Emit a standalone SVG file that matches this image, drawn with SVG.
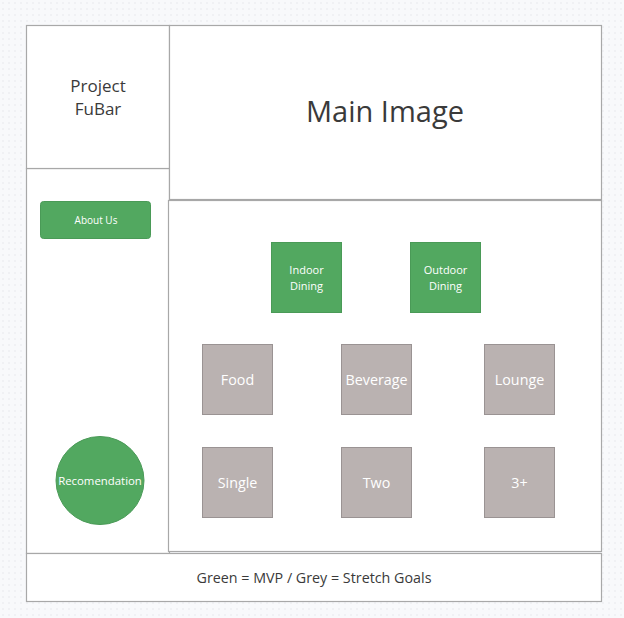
<svg xmlns="http://www.w3.org/2000/svg" width="624" height="618" viewBox="0 0 624 618">
<style>
.frame{fill:#fff;stroke:#a8a8a8;stroke-width:1.2}
.green{fill:#52a860;stroke:#4a9a57;stroke-width:1}
.grey{fill:#bab2b1;stroke:#9a9393;stroke-width:1}
.dark{font-family:"Open Sans","Noto Sans",sans-serif;fill:#3a3a3a;text-anchor:middle}
.light{font-family:"Open Sans","Noto Sans",sans-serif;fill:#fff;text-anchor:middle}
</style>
<defs>
<pattern id="dots" width="6" height="6" patternUnits="userSpaceOnUse">
<rect width="6" height="6" fill="#f8f9fb"/>
<circle cx="3" cy="3" r="0.7" fill="#e2e4e8"/>
</pattern>
</defs>
<rect width="624" height="618" fill="url(#dots)"/>
<g id="left-column"><rect class="frame" x="26.5" y="168.5" width="143" height="385"/></g>
<g id="project-fubar"><rect class="frame" x="26.5" y="25.5" width="143" height="143"/>
<text class="dark" font-size="17" x="98" y="92">Project</text>
<text class="dark" font-size="17" x="98" y="115">FuBar</text></g>
<g id="main-image"><rect class="frame" x="169.5" y="25.5" width="432" height="174"/>
<text class="dark" font-size="29" x="385" y="122">Main Image</text></g>
<g id="content-panel"><rect class="frame" x="168.5" y="200.5" width="433" height="351"/></g>
<g id="footer"><rect class="frame" x="26.5" y="553.5" width="575" height="48"/>
<text class="dark" font-size="14.3" x="314" y="583">Green = MVP / Grey = Stretch Goals</text></g>
<g id="about-us"><rect class="green" x="40.5" y="201.5" width="110" height="37" rx="3"/>
<text class="light" font-size="10" x="96" y="224">About Us</text></g>
<g id="recomendation"><circle class="green" cx="100" cy="480.5" r="44"/>
<text class="light" font-size="11.4" x="100" y="485">Recomendation</text></g>
<g id="indoor-dining"><rect class="green" x="271.5" y="242.5" width="70" height="70"/>
<text class="light" font-size="11" x="306.5" y="274">Indoor</text>
<text class="light" font-size="11" x="306.5" y="290">Dining</text></g>
<g id="outdoor-dining"><rect class="green" x="410.5" y="242.5" width="70" height="70"/>
<text class="light" font-size="11" x="445.5" y="274">Outdoor</text>
<text class="light" font-size="11" x="445.5" y="290">Dining</text></g>
<g id="food"><rect class="grey" x="202.5" y="344.5" width="70" height="70"/>
<text class="light" font-size="14.3" x="237.5" y="385">Food</text></g>
<g id="beverage"><rect class="grey" x="341.5" y="344.5" width="70" height="70"/>
<text class="light" font-size="14.3" x="376.5" y="385">Beverage</text></g>
<g id="lounge"><rect class="grey" x="484.5" y="344.5" width="70" height="70"/>
<text class="light" font-size="14.3" x="519.5" y="385">Lounge</text></g>
<g id="single"><rect class="grey" x="202.5" y="447.5" width="70" height="70"/>
<text class="light" font-size="14.3" x="237.5" y="488">Single</text></g>
<g id="two"><rect class="grey" x="341.5" y="447.5" width="70" height="70"/>
<text class="light" font-size="14.3" x="376.5" y="488">Two</text></g>
<g id="three-plus"><rect class="grey" x="484.5" y="447.5" width="70" height="70"/>
<text class="light" font-size="14.3" x="519.5" y="488">3+</text></g>
<g id="connectors"></g>
</svg>
